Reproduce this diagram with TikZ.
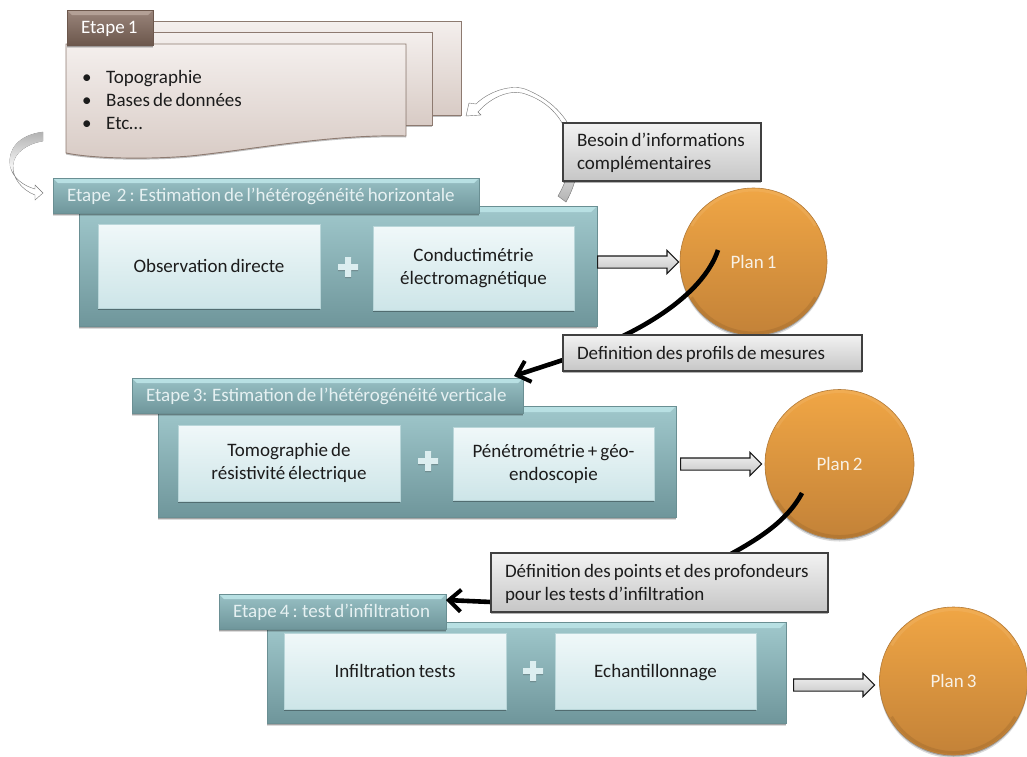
\documentclass[tikz,border=0pt]{standalone}
\usepackage{fontspec}
\setmainfont[WordSpace=0.72]{Carlito}
\usetikzlibrary{shadows,shapes.arrows,arrows.meta}
\definecolor{txt}{HTML}{1C1C1C}
\definecolor{tabtxt}{HTML}{E6F1F2}
\definecolor{tealtop}{HTML}{A0C8CC}
\definecolor{tealbot}{HTML}{6F969B}
\definecolor{tealhi}{HTML}{B8E0E3}
\definecolor{tealedge}{HTML}{6A8F93}
\definecolor{orangetop}{HTML}{F0A645}
\definecolor{orangebot}{HTML}{C38238}
\definecolor{orangeedge}{HTML}{B27B3A}
\tikzset{
  softshadow/.style={drop shadow={shadow xshift=0pt,shadow yshift=-3pt,opacity=.14,fill=black},
    drop shadow={shadow xshift=0pt,shadow yshift=-1.5pt,opacity=.25,fill=black}},
  lbl/.style={font=\fontsize{19}{23}\selectfont,text=txt,
    execute at begin node={\rule{0pt}{16pt}},execute at end node={\rule[-3pt]{0pt}{3pt}}},
  bevelbox/.style n args={2}{path picture={
    \fill[#1] (path picture bounding box.north west)--(path picture bounding box.north east)
      --++(-#2,-#2)-|([xshift=#2,yshift=-#2]path picture bounding box.north west)--cycle;
  }},
  panel/.style={rectangle,inner sep=0pt,draw=tealedge,line width=.7pt,top color=tealtop,bottom color=tealbot,
    softshadow,bevelbox={tealhi}{6pt}},
  tab/.style={rectangle,inner ysep=0pt,inner xsep=14pt,text width=\bxtw pt,align=flush left,draw=tealedge,line width=.7pt,
    top color=tealtop!85!tealbot,bottom color=tealbot,softshadow,bevelbox={tealhi}{5pt},
    font=\fontsize{19}{20}\selectfont,text=tabtxt,
    execute at begin node={\rule{0pt}{15pt}},execute at end node={\rule[-3.5pt]{0pt}{3.5pt}}},
  brown/.style={tab,draw=BrownBot,top color=BrownTop,bottom color=BrownBot,
    bevelbox={BrownHi}{5pt},text=white},
  innerbox/.style={rectangle,inner sep=0pt,draw=InnerEdge,line width=.8pt,top color=InnerTop,bottom color=InnerBot,
    drop shadow={shadow xshift=0pt,shadow yshift=-1.5pt,opacity=.3,fill=black},lbl,align=flush center},
  graybox/.style={rectangle,inner ysep=0pt,inner xsep=14pt,text width=\bxtw pt,align=flush left,draw=black!75,line width=1.1pt,
    top color=GrayTop,bottom color=GrayBot,drop shadow={shadow xshift=0pt,shadow yshift=-1.5pt,opacity=.3,fill=black},lbl},
  page/.style={rectangle,inner sep=0pt,draw=PageEdge,line width=.9pt,top color=PageTop,bottom color=PageBot,
    drop shadow={shadow xshift=0pt,shadow yshift=-1.5pt,opacity=.25,fill=black}},
  plan/.style={circle,inner sep=0pt,minimum size=#1,draw=orangeedge,line width=.6pt,top color=orangetop,bottom color=orangebot,
    softshadow,font=\fontsize{19}{20}\selectfont,text=PlanTxt,
    path picture={\draw[orangetop!60!white,opacity=.2,line width=3pt] (path picture bounding box.center) ++(150:#1/2-2pt) arc[start angle=150,end angle=30,radius=#1/2-2pt];
      \draw[orangebot!70!black,opacity=.25,line width=3pt] (path picture bounding box.center) ++(210:#1/2-2pt) arc[start angle=210,end angle=330,radius=#1/2-2pt];}},
  blockarrow/.style={single arrow,anchor=tail,inner sep=0pt,minimum height=#1,single arrow head extend=5.5pt,
    single arrow tip angle=90,draw=black!90,line width=1.1pt,top color=GrayTop,bottom color=GrayBot},
  flow/.style={line width=4.6pt,draw=black,-{Straight Barb[length=12pt,width=22pt,line width=4pt]}},
  curlyarrow/.style={draw=black!55,line width=.4pt},
  plusmark/.style={fill=PlusCol,draw=none,drop shadow={shadow xshift=0pt,shadow yshift=-1pt,opacity=.25,fill=black}},
}
\definecolor{BrownTop}{HTML}{9A857B}
\definecolor{BrownBot}{HTML}{6C574C}
\definecolor{BrownHi}{HTML}{B3A096}
\definecolor{InnerTop}{HTML}{F0F8F9}
\definecolor{InnerBot}{HTML}{CDE5E8}
\definecolor{InnerEdge}{HTML}{B9D6D9}
\definecolor{GrayTop}{HTML}{F2F2F2}
\definecolor{GrayBot}{HTML}{C6C6C6}
\definecolor{PageTop}{HTML}{F4EFED}
\definecolor{PageBot}{HTML}{D8CBC5}
\definecolor{PageEdge}{HTML}{8D7A70}
\definecolor{PlanTxt}{HTML}{F8F1E6}
\definecolor{PlusCol}{HTML}{DCEEF0}
% style, name, x1, y1, x2, y2, text
\newcommand{\bxnode}[7]{%
  \pgfmathsetmacro\bxw{#5-#3}\pgfmathsetmacro\bxh{#6-#4}\pgfmathsetmacro\bxtw{#5-#3-28}%
  \pgfmathsetmacro\bxcx{(#3+#5)/2}\pgfmathsetmacro\bxcy{(#4+#6)/2}%
  \node[#1,minimum width=\bxw pt,minimum height=\bxh pt] (#2) at (\bxcx,\bxcy) {#7};}
\newcommand{\plusat}[2]{%
  \fill[plusmark] (#1-3,#2-10)--(#1+3,#2-10)--(#1+3,#2-3)--(#1+10,#2-3)--(#1+10,#2+3)--(#1+3,#2+3)--(#1+3,#2+10)--(#1-3,#2+10)--(#1-3,#2+3)--(#1-10,#2+3)--(#1-10,#2-3)--(#1-3,#2-3)--cycle;}
\begin{document}
\begin{tikzpicture}[x=1pt,y=-1pt]
\useasboundingbox (0,0) rectangle (1027,756);
% Etape 1 pages
\bxnode{page}{pageback}{150}{21}{461}{115}{}
\bxnode{page}{pagemid}{150}{32}{432}{125}{}
\draw[page] (66,44) -- (406,44) -- (406,136) .. controls (330,134) and (250,150) .. (190,156)
   .. controls (140,160) and (90,158) .. (66,153) -- cycle;
\node[lbl,anchor=north west,inner sep=0pt,align=flush left] (liste) at (82,70.5)
  {\makebox[24pt][l]{\textbullet}Topographie\\\makebox[24pt][l]{\textbullet}Bases de données\\\makebox[24pt][l]{\textbullet}Etc…};
\bxnode{brown}{etape1}{67}{10}{153}{45}{Etape 1}
% curved arrows
\draw[curlyarrow,top color=white,bottom color=white,middle color=white] (43,132) .. controls (18,135) and (8,150) .. (10,165)
  .. controls (12,178) and (24,186) .. (35,189) -- (35,185) -- (43,193) -- (35,200) -- (35,195)
  .. controls (22,190) and (12,178) .. (13,165) .. controls (14,153) and (26,144) .. (43,141) -- cycle;
\shade[top color=black!30,bottom color=white] (43,132) .. controls (18,135) and (8,150) .. (10,165)
  .. controls (10.5,168) and (12,172) .. (13,165) .. controls (14,153) and (26,144) .. (43,141) -- cycle;
\draw[curlyarrow,top color=white,bottom color=black!30,middle color=white] (566,202) .. controls (590,160) and (578,110) .. (525,89)
  .. controls (510,84) and (488,92) .. (476,104) -- (469,103) -- (466,116) -- (481,115) -- (478,112)
  .. controls (490,98) and (508,90) .. (522,93) .. controls (565,105) and (585,150) .. (558,196) -- cycle;
% Etape 2
\bxnode{panel}{panel2}{79}{206}{597}{326}{}
\bxnode{tab}{etape2}{53}{178}{479}{213}{Etape\ \ 2 : Estimation de l’hétérogénéité horizontale}
\bxnode{innerbox}{obs}{98}{224}{320}{308}{Observation directe}
\bxnode{innerbox}{cond}{373}{226}{574}{310}{Conductimétrie\\électromagnétique}
\plusat{348}{267}
\bxnode{plan=147pt}{plan1}{680}{188}{827}{335}{Plan 1}
\node[blockarrow=81pt] (fl1) at (597,262) {\rule{0pt}{11pt}};
% Etape 3
\bxnode{panel}{panel3}{158}{406}{676}{517}{}
\bxnode{tab}{etape3}{132}{378}{523}{413}{Etape 3: Estimation de l’hétérogénéité verticale}
\bxnode{innerbox}{tomo}{178}{425}{400}{501}{Tomographie de\\résistivité électrique}
\bxnode{innerbox}{peno}{453}{427}{654}{500}{Pénétrométrie + géo-\\endoscopie}
\plusat{428}{461}
\bxnode{plan=149pt}{plan2}{765}{390}{914}{538}{Plan 2}
\node[blockarrow=81pt] (fl2) at (680,464) {\rule{0pt}{11pt}};
% Etape 4
\bxnode{panel}{panel4}{267}{622}{786}{723}{}
\bxnode{tab}{etape4}{219}{594}{446}{629}{Etape 4 : test d’infiltration}
\bxnode{innerbox}{infil}{284}{633}{506}{709}{Infiltration tests}
\bxnode{innerbox}{echan}{555}{633}{756}{709}{Echantillonnage}
\plusat{533}{671}
\bxnode{plan=147pt}{plan3}{880}{607}{1027}{755}{Plan 3}
\node[blockarrow=81pt] (fl3) at (793,685) {\rule{0pt}{11pt}};
% black connectors
\coordinate (c1a) at (718,250);
\coordinate (c1b) at (563,360);
\coordinate (c1c) at (514,376);
\coordinate (c2a) at (802,493);
\coordinate (c2b) at (491,602);
\coordinate (c2c) at (446,600);
\draw[flow] (c1a) .. controls (703,295) and (640,335) .. (c1b) -- (c1c);
\draw[flow] (c2a) .. controls (785,525) and (750,545) .. (700,570) -- (c2b) -- (c2c);
% gray boxes
\bxnode{graybox}{besoin}{563}{123}{761}{181}{Besoin d’informations\\complémentaires}
\bxnode{graybox}{defprof}{563}{335}{862}{371}{Definition des profils de mesures}
\bxnode{graybox}{defpts}{491}{553}{828}{612}{Définition des points et des profondeurs\\pour les tests d’infiltration}
\end{tikzpicture}
\end{document}
